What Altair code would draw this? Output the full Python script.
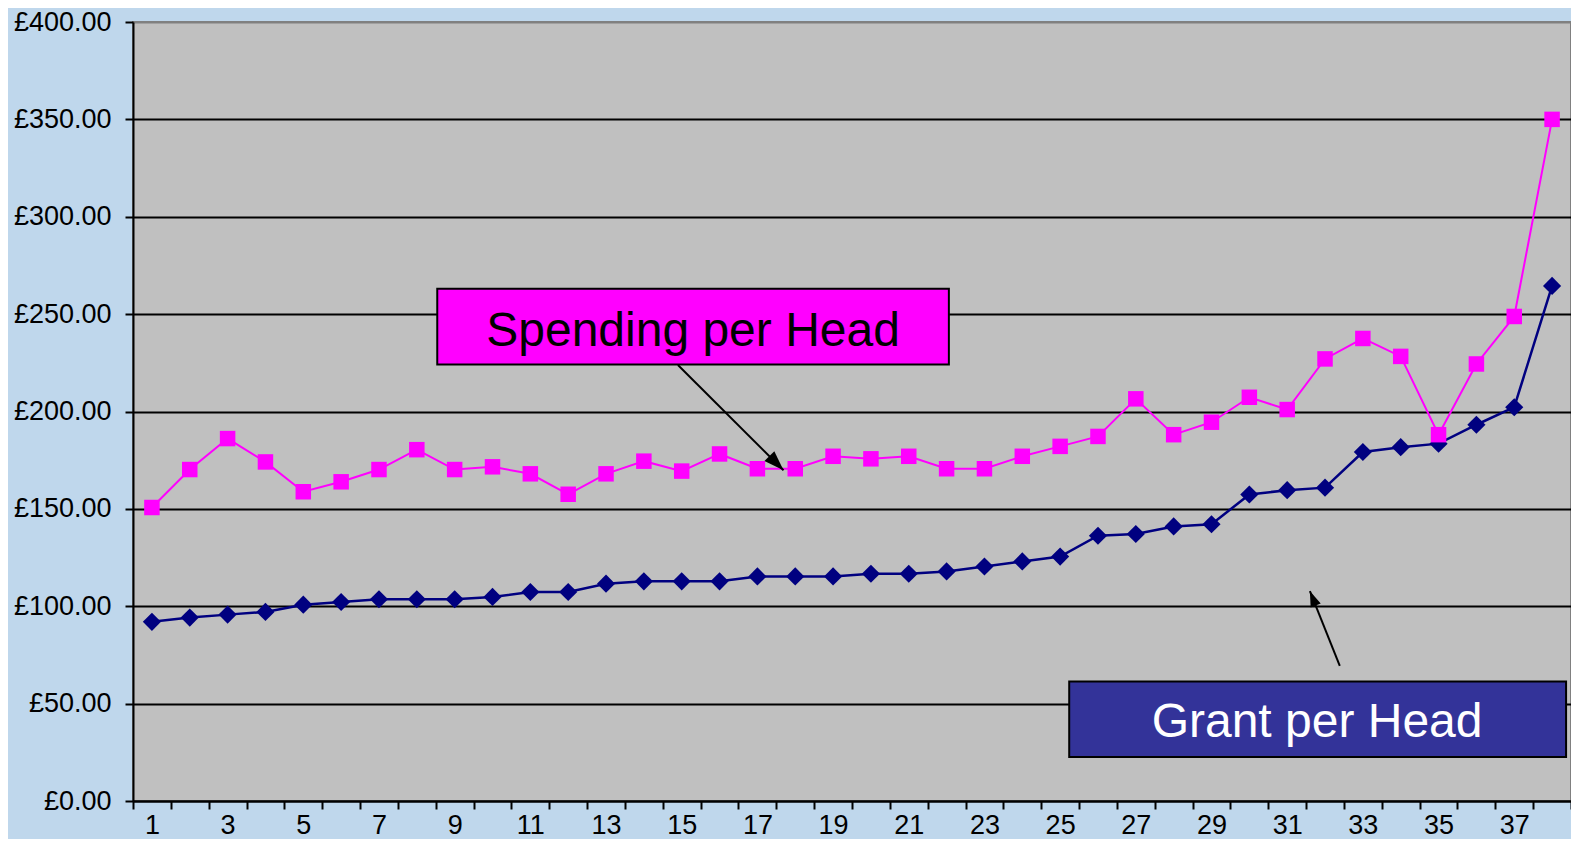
import altair as alt
import pandas as pd

# ---- data ----
categories = list(range(1, 39))
grant_per_head = [92.0, 94.2, 95.7, 97.1, 100.8, 102.2, 103.6, 103.6, 103.6, 104.8,
                  107.3, 107.3, 111.6, 112.8, 112.8, 112.8, 115.3, 115.3, 115.3, 116.7,
                  116.7, 117.9, 120.4, 123.0, 125.5, 136.2, 137.1, 141.0, 142.1, 157.4,
                  159.6, 160.9, 179.2, 181.7, 183.5, 193.2, 202.2, 264.5]
spending_per_head = [150.7, 170.2, 186.1, 174.1, 158.8, 163.9, 170.2, 180.4, 170.2, 171.6,
                     168.0, 157.5, 168.0, 174.5, 169.4, 178.2, 170.6, 170.6, 177.0, 175.7,
                     177.0, 170.6, 170.6, 177.0, 182.1, 187.2, 206.5, 188.1, 194.5, 207.3,
                     201.0, 227.0, 237.5, 228.3, 188.1, 224.4, 248.8, 350.0]
y_ticks = [0, 50, 100, 150, 200, 250, 300, 350, 400]

# annotation boxes (data units: category index, £)
box_labels = ["Spending per Head", "Grant per Head"]
box_x = [8.54, 25.24]
box_x2 = [22.06, 38.37]
box_y = [263.0, 61.4]
box_y2 = [224.1, 22.6]
box_fill = ["#FF00FF", "#333399"]
text_x = [15.30, 31.79]
text_y = [233.8, 32.7]
text_color = ["#000000", "#FFFFFF"]

# arrows (tail -> tip)
arrow_x = [14.90, 32.39]
arrow_y = [223.9, 69.4]
arrow_x2 = [17.69, 31.60]
arrow_y2 = [169.8, 107.8]
arrow_angle = [135, 338]
arrow_size = [400, 240]

FONT = "Liberation Sans"
PLOT_W = 1438
PLOT_H = 779

df = pd.DataFrame({"cat": categories, "grant": grant_per_head, "spend": spending_per_head})
boxes = pd.DataFrame({"label": box_labels, "x": box_x, "x2": box_x2, "y": box_y, "y2": box_y2,
                      "fill": box_fill, "tx": text_x, "ty": text_y, "tc": text_color})
arrows = pd.DataFrame({"x": arrow_x, "y": arrow_y, "x2": arrow_x2, "y2": arrow_y2,
                       "angle": arrow_angle, "size": arrow_size})

band = alt.Scale(domain=categories, paddingInner=0, paddingOuter=0)
qx = alt.Scale(domain=[categories[0] - 0.5, categories[-1] + 0.5], nice=False, zero=False)
yscale = alt.Scale(domain=[0, 400], nice=False)

x_axis = alt.Axis(
    title=None, grid=False, tickBand="extent", labelAngle=0,
    labelExpr="datum.value % 2 === 1 ? datum.label : ''",
    labelOverlap=False, labelBound=False, labelFlush=False,
    labelFont=FONT, labelFontSize=27, labelColor="black", labelPadding=3,
    tickSize=8, tickWidth=2, tickColor="black",
    domainColor="black", domainWidth=2,
)
y_axis = alt.Axis(
    values=y_ticks, title=None,
    labelExpr="'£' + format(datum.value, '.2f')",
    labelFont=FONT, labelFontSize=27, labelColor="black", labelPadding=14,
    tickSize=8, tickWidth=2, tickColor="black",
    grid=True, gridWidth=2,
    gridColor={"condition": {"test": "datum.value >= 400", "value": "#808080"}, "value": "black"},
    domainColor="black", domainWidth=2,
)

base = alt.Chart(df)
X = alt.X("cat:O", scale=band, axis=x_axis)

grant_line = base.mark_line(color="#000080", strokeWidth=2.5).encode(
    x=X, y=alt.Y("grant:Q", scale=yscale, axis=y_axis))
grant_pts = base.mark_point(shape="diamond", filled=True, size=330, color="#000080", opacity=1).encode(
    x=X, y=alt.Y("grant:Q", scale=yscale))
spend_line = base.mark_line(color="#FF00FF", strokeWidth=2).encode(
    x=X, y=alt.Y("spend:Q", scale=yscale))
spend_pts = base.mark_point(shape="square", filled=True, size=240, color="#FF00FF", opacity=1).encode(
    x=X, y=alt.Y("spend:Q", scale=yscale))
series = alt.layer(grant_line, grant_pts, spend_line, spend_pts)

bchart = alt.Chart(boxes)
rects = bchart.mark_rect(stroke="black", strokeWidth=2).encode(
    x=alt.X("x:Q", scale=qx, axis=None), x2="x2:Q",
    y=alt.Y("y:Q", scale=yscale), y2="y2:Q",
    fill=alt.Fill("fill:N", scale=None),
)
texts = bchart.mark_text(font=FONT, fontSize=48, align="center", baseline="alphabetic").encode(
    x=alt.X("tx:Q", scale=qx, axis=None), y=alt.Y("ty:Q", scale=yscale),
    text="label:N", color=alt.Color("tc:N", scale=None),
)

achart = alt.Chart(arrows)
arrow_lines = achart.mark_rule(color="black", strokeWidth=2).encode(
    x=alt.X("x:Q", scale=qx, axis=None), y=alt.Y("y:Q", scale=yscale),
    x2="x2:Q", y2="y2:Q",
)
arrow_heads = achart.mark_point(shape="M0,0L-0.7,2L0.7,2Z", filled=True, color="black", opacity=1).encode(
    x=alt.X("x2:Q", scale=qx, axis=None), y=alt.Y("y2:Q", scale=yscale),
    angle=alt.Angle("angle:Q", scale=None),
    size=alt.Size("size:Q", scale=None),
)
annotations = alt.layer(arrow_lines, arrow_heads, rects, texts)

chart = alt.layer(series, annotations).resolve_scale(x="independent").properties(
    width=PLOT_W, height=PLOT_H,
    background="#BFD7EC",
    padding={"left": 125, "top": 14, "right": 0, "bottom": 38},
    autosize=alt.AutoSizeParams(type="none"),
).configure_view(
    fill="#C0C0C0", stroke="#808080", strokeWidth=2,
)

chart.save("out.html", embed_options={"renderer": "svg", "actions": False})
